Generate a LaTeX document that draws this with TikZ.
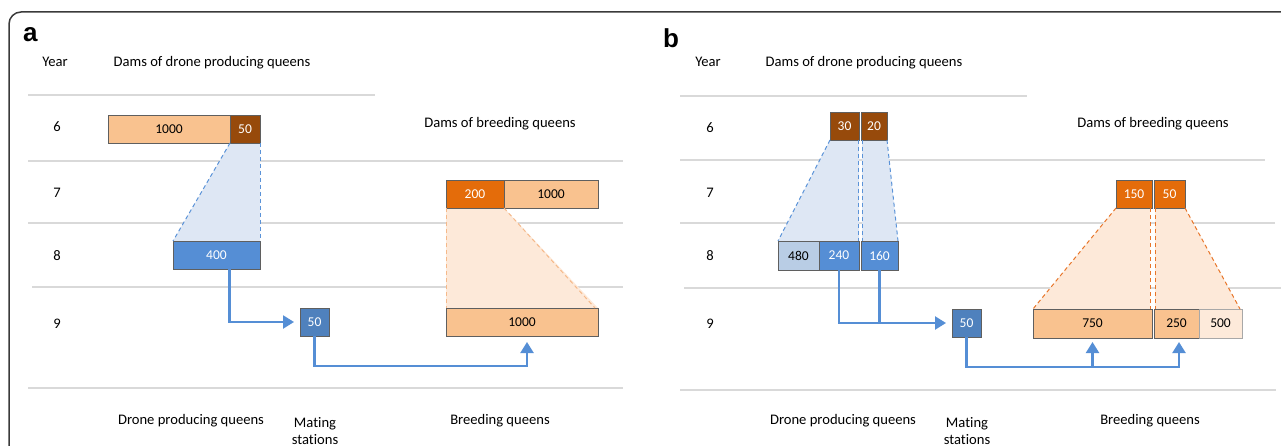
\documentclass[tikz,border=0pt]{standalone}
\usepackage{fontspec}
\setmainfont{Carlito}[Ligatures=NoCommon]
\newfontfamily\panelfont{Liberation Sans}
\usetikzlibrary{arrows.meta}

\definecolor{peach}{HTML}{F9C28F}
\definecolor{brownbox}{HTML}{974A0B}
\definecolor{orangebox}{HTML}{E46C0A}
\definecolor{bluebox}{HTML}{558ED5}
\definecolor{darkbluebox}{HTML}{4F81BD}
\definecolor{lightbluebox}{HTML}{B9CDE5}
\definecolor{lightpeach}{HTML}{FDEADA}
\definecolor{trapblue}{HTML}{DEE7F4}
\definecolor{traporange}{HTML}{FDE9D9}
\definecolor{gridgray}{HTML}{D9D9D9}
\definecolor{boxgray}{HTML}{5F5F5F}
\definecolor{arrowblue}{HTML}{558ED5}
\definecolor{framegray}{HTML}{3A3A3A}
\definecolor{dashblue}{HTML}{5B93D8}
\definecolor{dashlorange}{HTML}{F5B98A}
\definecolor{dashorange}{HTML}{E8762A}

\begin{document}
\begin{tikzpicture}[x=1pt,y=-1pt,
  box/.style={draw=boxgray, line width=0.8pt, inner sep=0pt, outer sep=0pt,
              anchor=north west, font=\fontsize{13.5}{15}\selectfont, text=black},
  wbox/.style={box, text=white},
  lbl/.style={font=\fontsize{14.6}{17}\selectfont, anchor=base, inner sep=0pt},
  yearnum/.style={font=\fontsize{14.6}{17}\selectfont, anchor=base, inner sep=0pt},
  panel/.style={font=\panelfont\bfseries\fontsize{26}{30}\selectfont, anchor=base west, inner sep=0pt},
  gline/.style={draw=gridgray, line width=1.3pt},
  arr/.style={draw=arrowblue, line width=2.2pt, -{Triangle[length=11pt,width=13pt]}},
  flow/.style={draw=arrowblue, line width=2.2pt},
  bdash/.style={draw=dashblue, line width=1pt, dash pattern=on 4pt off 3pt},
  lodash/.style={draw=dashlorange, line width=1pt, dash pattern=on 4pt off 3pt},
  odash/.style={draw=dashorange, line width=1pt, dash pattern=on 4pt off 3pt}
]
\useasboundingbox (0,0) rectangle (1281,446);
\clip (0,0) rectangle (1281,446);
\draw[framegray, line width=1.5pt, rounded corners=12pt] (9,12) rectangle (1330,500);

% ---------------- panel a ----------------
\node[panel] (pa) at (23,42) {a};
\draw[gline] (28,95) -- (375,95);
\draw[gline] (28,161) -- (623,161);
\draw[gline] (28,223) -- (623,223);
\draw[gline] (32,287) -- (623,287);
\draw[gline] (28,388) -- (623,388);

\node[lbl] (ayear) at (55,67) {Year};
\node[lbl] (adamsd) at (212,67) {Dams of drone producing queens};
\node[lbl] (adamsb) at (500,128) {Dams of breeding queens};
\node[yearnum] (ay6) at (57,132) {6};
\node[yearnum] (ay7) at (57,198) {7};
\node[yearnum] (ay8) at (57,261) {8};
\node[yearnum] (ay9) at (57,328) {9};
\node[lbl] (adpq) at (191,424) {Drone producing queens};
\node[lbl] (amat) at (315,427) {Mating};
\node[lbl] (asta) at (315,444) {stations};
\node[lbl] (abq) at (500,424) {Breeding queens};

\coordinate (a6tl) at (108,115);
\coordinate (a6tr) at (230,115);
\coordinate (a7tl) at (446,180);
\coordinate (a7tr) at (504,180);
\coordinate (a8t) at (173,241);
\coordinate (a9tl) at (300,308);
\coordinate (a9tr) at (446,308);

% trapezoids
\fill[trapblue] (230,143) -- (260,143) -- (260,241) -- (173,241) -- cycle;
\fill[traporange] (446,208) -- (504,208) -- (598,308) -- (446,308) -- cycle;

\node[box, fill=peach, minimum width=122pt, minimum height=28pt] (a1000) at (a6tl) {1000};
\node[wbox, fill=brownbox, minimum width=30pt, minimum height=28pt] (a50b) at (a6tr) {50};
\node[wbox, fill=orangebox, minimum width=58pt, minimum height=28pt] (a200) at (a7tl) {200};
\node[box, fill=peach, minimum width=94pt, minimum height=28pt] (a1000b) at (a7tr) {1000};
\node[wbox, fill=bluebox, minimum width=87pt, minimum height=28pt] (a400) at (a8t) {400};
\node[wbox, fill=darkbluebox, minimum width=29pt, minimum height=28pt] (a50m) at (a9tl) {50};
\node[box, fill=peach, minimum width=152pt, minimum height=28pt] (a1000q) at (a9tr) {1000};

\draw[bdash] (a50b.south west) -- (a400.north west);
\draw[bdash] (a50b.south east) -- (a400.north east);
\draw[lodash] (a200.south west) -- (a1000q.north west);
\draw[lodash] (a200.south east) -- ([xshift=-3pt]a1000q.north east);

\draw[arr, shorten >=6pt] ([xshift=13pt]a400.south) |- (a50m.west);
\draw[arr, shorten >=6pt] (a50m.south) -- ++(0,30) -| ([xshift=5pt]a1000q.south);

% ---------------- panel b ----------------
\node[panel] (pb) at (663,48) {b};
\draw[gline] (680,96) -- (1027,96);
\draw[gline] (680,160) -- (1265,160);
\draw[gline] (680,223) -- (1275,223);
\draw[gline] (684,288) -- (1281,288);
\draw[gline] (680,390) -- (1276,390);

\node[lbl] (byear) at (708,67) {Year};
\node[lbl] (bdamsd) at (864,67) {Dams of drone producing queens};
\node[lbl] (bdamsb) at (1153,128) {Dams of breeding queens};
\node[yearnum] (by6) at (710,133) {6};
\node[yearnum] (by7) at (710,198) {7};
\node[yearnum] (by8) at (710,261) {8};
\node[yearnum] (by9) at (710,328) {9};
\node[lbl] (bdpq) at (843,424) {Drone producing queens};
\node[lbl] (bmat) at (967,427) {Mating};
\node[lbl] (bsta) at (967,444) {stations};
\node[lbl] (bbq) at (1150,424) {Breeding queens};

\fill[trapblue] (830,140) -- (859,140) -- (859,241) -- (778,241) -- cycle;
\fill[trapblue] (862,140) -- (887,140) -- (898,241) -- (862,241) -- cycle;
\fill[traporange] (1116,208) -- (1150,208) -- (1150,309) -- (1033,309) -- cycle;
\fill[traporange] (1155,208) -- (1185,208) -- (1240,309) -- (1155,309) -- cycle;

\node[wbox, fill=brownbox, minimum width=29pt, minimum height=28pt] (b30) at (830,112) {30};
\node[wbox, fill=brownbox, minimum width=26pt, minimum height=28pt] (b20) at (861,112) {20};
\node[wbox, fill=orangebox, minimum width=36pt, minimum height=28pt] (b150) at (1116,180) {150};
\node[wbox, fill=orangebox, minimum width=31pt, minimum height=28pt] (b50o) at (1154,180) {50};
\node[box, fill=lightbluebox, minimum width=41pt, minimum height=29pt] (b480) at (778,241) {480};
\node[wbox, fill=bluebox, minimum width=40pt, minimum height=29pt] (b240) at (819,241) {240};
\node[wbox, fill=bluebox, minimum width=37pt, minimum height=29pt] (b160) at (861,241) {160};
\node[wbox, fill=darkbluebox, minimum width=29pt, minimum height=28pt] (b50m) at (952,309) {50};
\node[box, fill=peach, minimum width=119pt, minimum height=29pt] (b750) at (1033,309) {750};
\node[box, fill=peach, minimum width=45pt, minimum height=29pt] (b250) at (1154,309) {250};
\node[box, draw=gridgray!60!boxgray, fill=lightpeach, minimum width=43pt, minimum height=29pt] (b500) at (1199,309) {500};

\draw[bdash] (b30.south west) -- (b480.north west);
\draw[bdash] ([xshift=-0.5pt]b30.south east) -- ([xshift=-0.5pt]b240.north east);
\draw[bdash] ([xshift=1pt]b20.south west) -- ([xshift=1pt]b160.north west);
\draw[bdash] (b20.south east) -- (b160.north east);
\draw[odash] (b150.south west) -- (b750.north west);
\draw[odash] ([xshift=-2pt]b150.south east) -- ([xshift=-2pt]b750.north east);
\draw[odash] ([xshift=1pt]b50o.south west) -- ([xshift=1pt]b250.north west);
\draw[odash] (b50o.south east) -- ([xshift=-2pt]b500.north east);

\coordinate (bline) at (0,367);
\draw[arr, shorten >=6pt] (b240.south) |- (b50m.west);
\draw[flow] (b160.south) -- (b160.south |- b50m.west);
\draw[arr, shorten >=4pt] (b50m.south) |- ([xshift=2.5pt]b250.south |- bline) -- ([xshift=2.5pt]b250.south);
\draw[arr, shorten >=4pt] (b750.south |- bline) -- (b750.south);
\end{tikzpicture}
\end{document}
